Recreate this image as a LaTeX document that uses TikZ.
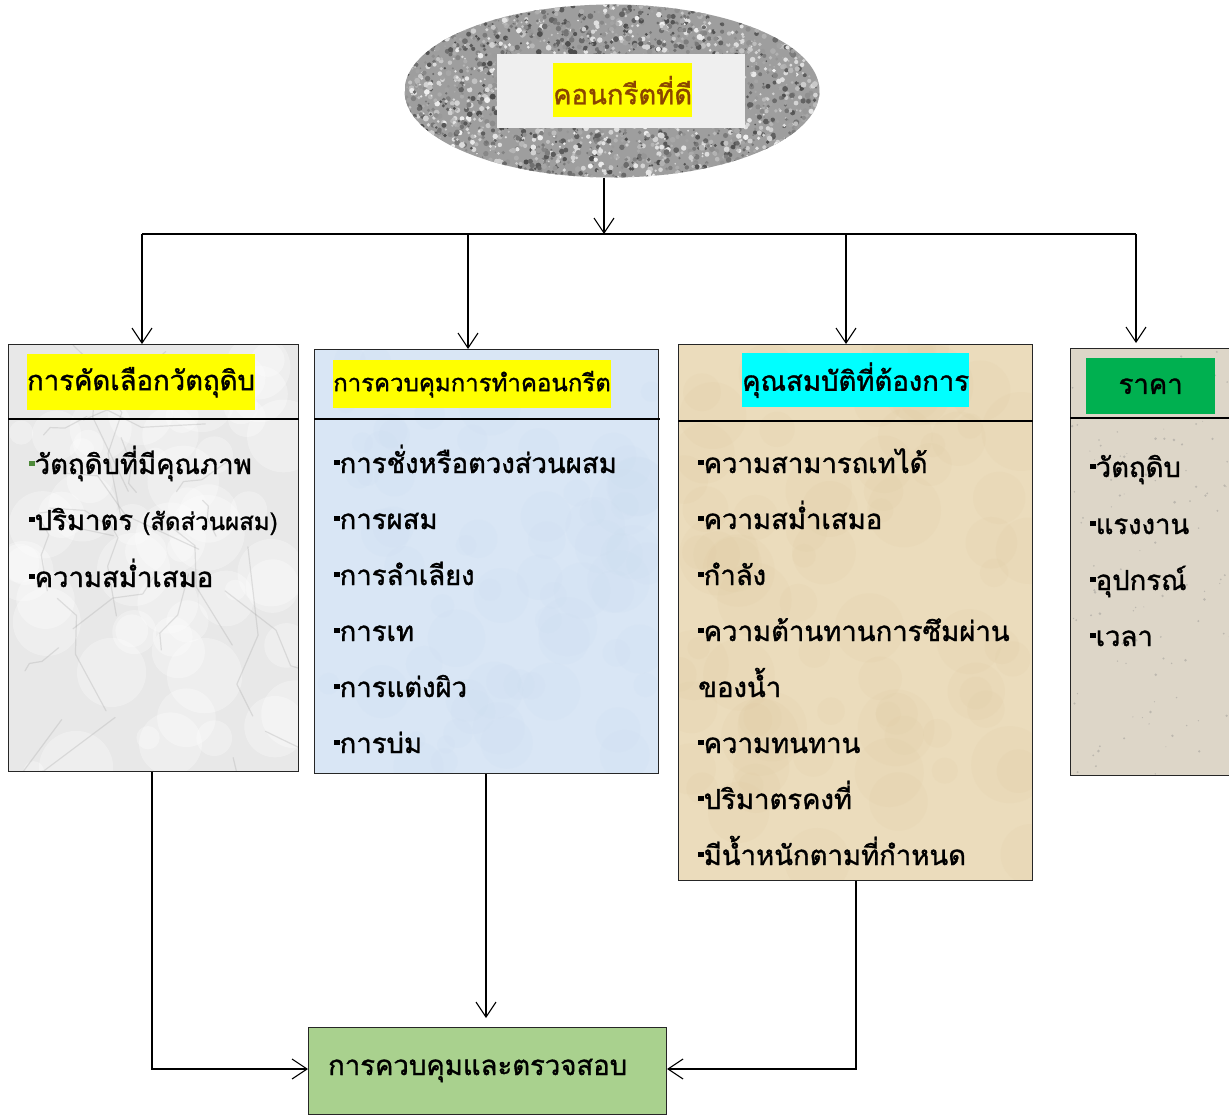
\documentclass[tikz,border=0pt]{standalone}
\usepackage{fontspec}
\setmainfont[Script=Thai,FakeBold=1.2]{Loma}
\usetikzlibrary{arrows.meta,shapes.geometric}
\definecolor{brownt}{HTML}{8A4500}
\definecolor{bulgreen}{HTML}{4E8A3A}
\definecolor{labgreen}{HTML}{00B050}
\definecolor{labcyan}{HTML}{00FFFF}
\definecolor{labyellow}{HTML}{FFFF00}
\definecolor{fingreen}{HTML}{A9D18E}
\definecolor{marble}{HTML}{E8E8E8}
\definecolor{skyb}{HTML}{D9E6F5}
\definecolor{skyb2}{HTML}{CCDDF0}
\definecolor{parch}{HTML}{EBDCBC}
\definecolor{parch2}{HTML}{E0CBA2}
\definecolor{sand}{HTML}{DDD6C8}
\definecolor{innerg}{HTML}{EFEFEF}
\newcommand\blt{\rule[0.28em]{0.2em}{0.2em}}
\newcommand\gblt{\textcolor{bulgreen}{\blt}}
\begin{document}
\begin{tikzpicture}[x=1pt,y=-1pt,
  arr/.style={line width=1.1pt,-{Straight Barb[length=15pt,width=20pt]}},
  ln/.style={line width=1.1pt},
  box/.style={draw=black!85,line width=1.1pt,rectangle,inner sep=0pt,anchor=north west},
  lab/.style={rectangle,inner sep=0pt,anchor=north west,font=\fontsize{27.5}{30}\selectfont},
  item/.style={anchor=base west,inner sep=0pt,font=\fontsize{27.5}{30}\selectfont},
]
\useasboundingbox (0,0) rectangle (1229,1116);

% top ellipse (granite)
\node[ellipse,inner sep=0pt,minimum width=415pt,minimum height=173pt,
  path picture={
    \fill[white!62!black] (path picture bounding box.south west) rectangle (path picture bounding box.north east);
    \pgfmathsetseed{11}
    \foreach \i in {1,...,3200}{
      \pgfmathsetmacro\px{rnd*420-210}
      \pgfmathsetmacro\py{rnd*180-90}
      \pgfmathtruncatemacro\g{30+rnd*65}
      \pgfmathsetmacro\r{0.8+rnd*2.2}
      \fill[white!\g!black] ([shift={(\px,\py)}]path picture bounding box.center) circle (\r);
    }
  }] (ell) at (612,91) {};
\node[rectangle,fill=innerg,inner sep=0pt,minimum width=248pt,minimum height=74pt,anchor=north west] (inner) at (497,54) {};
\node[lab,fill=labyellow,minimum width=138pt,minimum height=54pt,text=brownt] (top) at (553,63) {คอนกรีตที่ดี};

% junction coordinates
\coordinate (jtop) at (604,234);
\coordinate (jl) at (142,234);
\coordinate (jr) at (1136,234);
\coordinate (j2) at (468,234);
\coordinate (j3) at (846,234);

% boxes
\node[box,minimum width=290pt,minimum height=427pt,
  path picture={
    \fill[marble] (path picture bounding box.south west) rectangle (path picture bounding box.north east);
    \pgfmathsetseed{5}
    \foreach \i in {1,...,60}{
      \pgfmathsetmacro\px{rnd*290-145}
      \pgfmathsetmacro\py{rnd*427-213}
      \pgfmathsetmacro\r{10+rnd*28}
      \fill[white,opacity=0.3] ([shift={(\px,\py)}]path picture bounding box.center) circle (\r);
    }
    \foreach \i in {1,...,25}{
      \pgfmathsetmacro\px{rnd*290-145}
      \pgfmathsetmacro\py{rnd*427-213}
      \pgfmathsetmacro\ang{rnd*360}
      \pgfmathsetmacro\len{20+rnd*70}
      \draw[black!40,opacity=0.25,line width=1.2pt,line cap=round,line join=round] ([shift={(\px,\py)}]path picture bounding box.center) -- ++(\ang:\len) -- ++(\ang+30:\len*0.6) -- ++(\ang-20:\len*0.4);
    }
  }] (b1) at (8,344) {};
\node[box,minimum width=344pt,minimum height=424pt,
  path picture={
    \fill[skyb] (path picture bounding box.south west) rectangle (path picture bounding box.north east);
    \pgfmathsetseed{6}
    \foreach \i in {1,...,70}{
      \pgfmathsetmacro\px{rnd*344-172}
      \pgfmathsetmacro\py{rnd*424-212}
      \pgfmathsetmacro\r{8+rnd*25}
      \fill[skyb2,opacity=0.18] ([shift={(\px,\py)}]path picture bounding box.center) circle (\r);
    }
  }] (b2) at (314,349) {};
\node[box,minimum width=354pt,minimum height=536pt,
  path picture={
    \fill[parch] (path picture bounding box.south west) rectangle (path picture bounding box.north east);
    \pgfmathsetseed{8}
    \foreach \i in {1,...,80}{
      \pgfmathsetmacro\px{rnd*354-177}
      \pgfmathsetmacro\py{rnd*536-268}
      \pgfmathsetmacro\r{10+rnd*30}
      \fill[parch2,opacity=0.15] ([shift={(\px,\py)}]path picture bounding box.center) circle (\r);
    }
  }] (b3) at (678,344) {};
\node[box,minimum width=175pt,minimum height=427pt,
  path picture={
    \fill[sand] (path picture bounding box.south west) rectangle (path picture bounding box.north east);
    \pgfmathsetseed{9}
    \foreach \i in {1,...,120}{
      \pgfmathsetmacro\px{rnd*175-87}
      \pgfmathsetmacro\py{rnd*427-213}
      \pgfmathsetmacro\r{0.5+rnd*1.0}
      \fill[black!50,opacity=0.35] ([shift={(\px,\py)}]path picture bounding box.center) circle (\r);
    }
  }] (b4) at (1070,348) {};

% header separator lines
\draw[ln] (b1.west |- 0,419) -- (b1.east |- 0,419);
\draw[ln] (b2.west |- 0,419) -- (660,419);
\draw[ln] (b3.west |- 0,421) -- (b3.east |- 0,421);
\draw[ln] (b4.west |- 0,418) -- (b4.east |- 0,418);

% header labels
\node[lab,fill=labyellow,minimum width=226pt,minimum height=56pt] (h1) at (27,354) {การคัดเลือกวัตถุดิบ};
\node[lab,fill=labyellow,minimum width=273pt,minimum height=48pt,font=\fontsize{24}{27}\selectfont] (h2) at (333,360) {การควบคุมการทำคอนกรีต};
\node[lab,fill=labcyan,minimum width=225pt,minimum height=54pt] (h3) at (742,353) {คุณสมบัติที่ต้องการ};
\node[lab,fill=labgreen,minimum width=129pt,minimum height=56pt] (h4) at (1086,358) {ราคา};

% items box 1
\node[item] (i11) at (29,474) {\gblt วัตถุดิบที่มีคุณภาพ};
\node[item] (i12) at (29,530) {\blt ปริมาตร {\fontsize{24}{26}\selectfont (สัดส่วนผสม)}};
\node[item] (i13) at (29,587) {\blt ความสม่ำเสมอ};

% items box 2
\node[item] (i21) at (334,473) {\blt การชั่งหรือตวงส่วนผสม};
\node[item] (i22) at (334,529) {\blt การผสม};
\node[item] (i23) at (334,585) {\blt การลำเลียง};
\node[item] (i24) at (334,641) {\blt การเท};
\node[item] (i25) at (334,697) {\blt การแต่งผิว};
\node[item] (i26) at (334,753) {\blt การบ่ม};

% items box 3
\node[item] (i31) at (698,473) {\blt ความสามารถเทได้};
\node[item] (i32) at (698,529) {\blt ความสม่ำเสมอ};
\node[item] (i33) at (698,585) {\blt กำลัง};
\node[item] (i34) at (698,641) {\blt ความต้านทานการซึมผ่าน};
\node[item] (i35) at (698,697) {ของน้ำ};
\node[item] (i36) at (698,753) {\blt ความทนทาน};
\node[item] (i37) at (698,809) {\blt ปริมาตรคงที่};
\node[item] (i38) at (698,865) {\blt มีน้ำหนักตามที่กำหนด};

% items box 4
\node[item] (i41) at (1090,477) {\blt วัตถุดิบ};
\node[item] (i42) at (1090,534) {\blt แรงงาน};
\node[item] (i43) at (1090,590) {\blt อุปกรณ์};
\node[item] (i44) at (1090,646) {\blt เวลา};

% final box
\node[box,fill=fingreen,minimum width=358pt,minimum height=87pt] (fin) at (308,1027) {};
\node[item] (fint) at (328,1075) {การควบคุมและตรวจสอบ};

% connectors top
\draw[arr] (jtop |- ell.south) -- (jtop);
\draw[ln] (jl) -- (jr);
\draw[arr] (jl) -- (jl |- b1.north);
\draw[arr] (j2) -- (j2 |- b2.north);
\draw[arr] (j3) -- (j3 |- b3.north);
\draw[arr] (jr) -- ([yshift=5pt]jr |- b4.north);

% connectors bottom
\coordinate (c1) at (152,1069);
\coordinate (c2) at (486,1018);
\coordinate (c3) at (856,1069);
\draw[arr] (c1 |- b1.south) -- (c1) -- (c1 -| fin.west);
\draw[arr] (c2 |- b2.south) -- (c2);
\draw[arr] (c3 |- b3.south) -- (c3) -- (c3 -| fin.east);
\end{tikzpicture}
\end{document}
